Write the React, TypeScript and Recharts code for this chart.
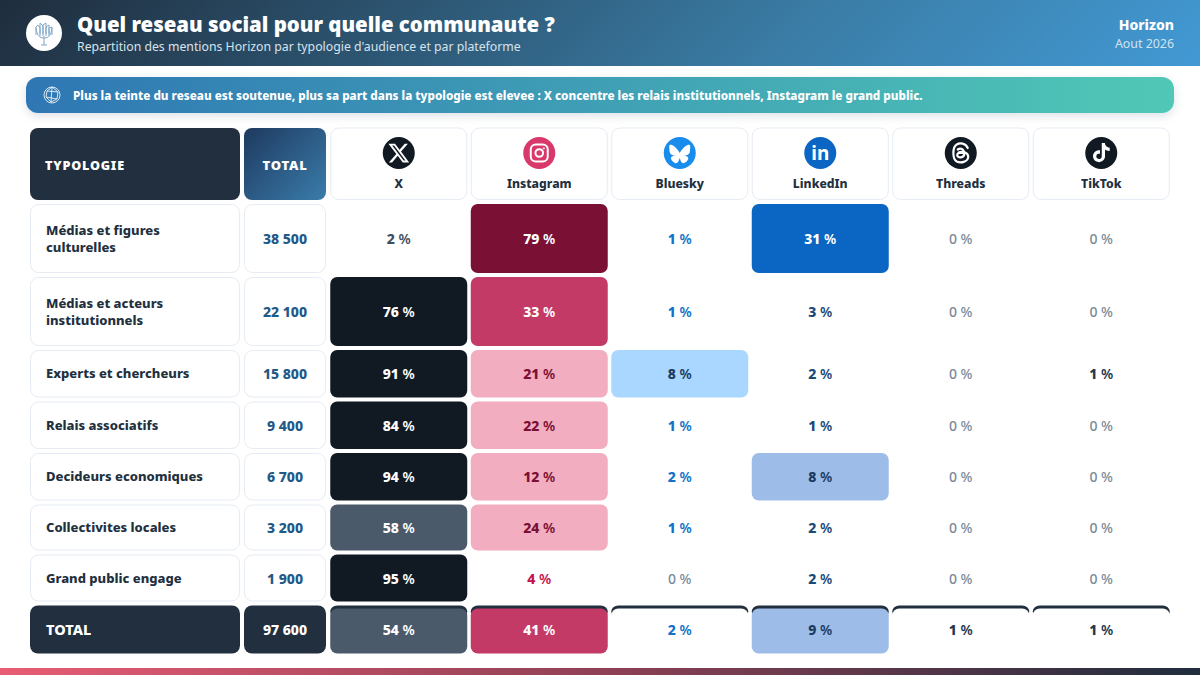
import React from "react";
import { ScatterChart, Scatter, XAxis, YAxis } from "recharts";

const typologies = [
  "Médias et figures\nculturelles",
  "Médias et acteurs\ninstitutionnels",
  "Experts et chercheurs",
  "Relais associatifs",
  "Decideurs economiques",
  "Collectivites locales",
  "Grand public engage",
  "TOTAL",
];
const totals = [38500, 22100, 15800, 9400, 6700, 3200, 1900, 97600];
const platforms = ["X", "Instagram", "Bluesky", "LinkedIn", "Threads", "TikTok"];

const xShare = [2, 76, 91, 84, 94, 58, 95, 54];
const instagramShare = [79, 33, 21, 22, 12, 24, 4, 41];
const blueskyShare = [1, 1, 8, 1, 2, 1, 0, 2];
const linkedinShare = [31, 3, 2, 1, 8, 2, 2, 9];
const threadsShare = [0, 0, 0, 0, 0, 0, 0, 1];
const tiktokShare = [0, 0, 1, 0, 0, 0, 0, 1];
const shares = [xShare, instagramShare, blueskyShare, linkedinShare, threadsShare, tiktokShare];

// layout
const rowBands = [73, 73, 51.5, 51.5, 51.5, 50, 51, 52];
const rowCenters = rowBands.map((h, i) => rowBands.slice(0, i).reduce((a, b) => a + b, 0) + h / 2);
const plotHeight = rowBands.reduce((a, b) => a + b, 0);
const FONT = '"Noto Sans", "Open Sans", sans-serif';
const NAVY = "#222f3e";

const tiers: Record<string, string[]> = {
  X: ["#4b5a6a", "#111a22"],
  Instagram: ["#f2adc0", "#c43a66", "#7a1034"],
  Bluesky: ["#a9d7ff"],
  LinkedIn: ["#9dbde8", "#0a66c2"],
  Threads: [],
  TikTok: [],
};
const plainText: Record<string, string> = {
  X: "#3f4f60",
  Instagram: "#c4134f",
  Bluesky: "#1473c8",
  LinkedIn: "#1c4a78",
  Threads: "#22384f",
  TikTok: "#22384f",
};
const lightText: Record<string, string> = {
  Instagram: "#7a1034",
  Bluesky: "#1c3a5f",
  LinkedIn: "#1c3a5f",
};

const cellStyle = (platform: string, v: number) => {
  if (v < 5) return { fill: "none", text: v === 0 ? "#7b8a99" : plainText[platform] };
  if (platform === "X") return { fill: tiers.X[v < 70 ? 0 : 1], text: "#ffffff" };
  if (v < 30) return { fill: tiers[platform][0], text: lightText[platform] };
  if (platform === "LinkedIn") return { fill: tiers.LinkedIn[1], text: "#ffffff" };
  return { fill: tiers.Instagram[v < 70 ? 1 : 2], text: "#ffffff" };
};

const cells = platforms.flatMap((platform, p) =>
  shares[p].map((v, row) => ({ platform, row, y: rowCenters[row], v }))
);

const HeatCell = (props: any) => {
  const { cx, cy, payload } = props;
  const { platform, row, v } = payload;
  const h = rowBands[row] - 4;
  const w = 137;
  const last = row === typologies.length - 1;
  const st = cellStyle(platform, v);
  return (
    <g>
      {last && <rect x={cx - w / 2} y={cy - h / 2} width={w} height={12} rx={7} fill={NAVY} />}
      {last ? (
        <rect x={cx - w / 2} y={cy - h / 2 + 3} width={w} height={h - 3} rx={7} fill={st.fill === "none" ? "#ffffff" : st.fill} />
      ) : (
        st.fill !== "none" && <rect x={cx - w / 2} y={cy - h / 2} width={w} height={h} rx={7} fill={st.fill} />
      )}
      <text x={cx} y={cy + 5.5} textAnchor="middle" fontFamily={FONT} fontSize={14} fill={st.text}>
        <tspan fontWeight={v === 0 ? 500 : 800}>{v}</tspan>
        <tspan fontWeight={v === 0 ? 500 : 600}> %</tspan>
      </text>
    </g>
  );
};

const PlatformIcon = ({ name, cx, cy }: { name: string; cx: number; cy: number }) => {
  const bg: Record<string, string> = {
    X: "#111a22",
    Instagram: "#d8396a",
    Bluesky: "#1a8cec",
    LinkedIn: "#0a66c2",
    Threads: "#111a22",
    TikTok: "#111a22",
  };
  return (
    <g>
      <circle cx={cx} cy={cy} r={16} fill={bg[name]} />
      {name === "X" && (
        <g transform={`translate(${cx - 11.5} ${cy - 11.5}) scale(0.96)`}>
          <path
            fill="#ffffff"
            d="M18.244 2.25h3.308l-7.227 8.26 8.502 11.24H16.17l-5.214-6.817L4.99 21.75H1.68l7.73-8.835L1.254 2.25H8.08l4.713 6.231zm-1.161 17.52h1.833L7.084 4.126H5.117z"
          />
        </g>
      )}
      {name === "Instagram" && (
        <g fill="none" stroke="#ffffff" strokeWidth={2}>
          <rect x={cx - 8.5} y={cy - 8.5} width={17} height={17} rx={5} />
          <circle cx={cx} cy={cy} r={3.8} />
          <circle cx={cx + 4.6} cy={cy - 4.6} r={0.6} fill="#ffffff" strokeWidth={1} />
        </g>
      )}
      {name === "Bluesky" && (
        <g transform={`translate(${cx - 10.5} ${cy - 9.5}) scale(0.875)`}>
          <path
            fill="#ffffff"
            d="M12 10.8c-1.087-2.114-4.046-6.053-6.798-7.995C2.566.944 1.561 1.266.902 1.565.139 1.908 0 3.08 0 3.768c0 .69.378 5.65.624 6.479.815 2.736 3.713 3.66 6.383 3.364-3.912.58-7.387 2.005-2.83 7.078 5.013 5.19 6.87-1.113 7.823-4.308.953 3.195 2.05 9.271 7.733 4.308 4.267-4.308 1.172-6.498-2.74-7.078 2.67.297 5.568-.628 6.383-3.364.246-.828.624-5.79.624-6.478 0-.69-.139-1.861-.902-2.206-.659-.298-1.664-.62-4.3 1.24C16.046 4.748 13.087 8.687 12 10.8Z"
          />
        </g>
      )}
      {name === "LinkedIn" && (
        <text x={cx} y={cy + 6.5} textAnchor="middle" fontFamily={FONT} fontSize={19} fontWeight={700} fill="#ffffff">
          in
        </text>
      )}
      {name === "Threads" && (
        <g fill="none" stroke="#ffffff" strokeWidth={2.2} strokeLinecap="round">
          <path d={`M${cx + 7} ${cy - 5} C${cx + 5} ${cy - 10} ${cx - 1} ${cy - 10.5} ${cx - 4} ${cy - 8.5} C${cx - 8.5} ${cy - 6} ${cx - 8.5} ${cy + 6} ${cx - 4} ${cy + 8.5} C${cx} ${cy + 10.5} ${cx + 7} ${cy + 9} ${cx + 7.5} ${cy + 4} C${cx + 7.5} ${cy - 1} ${cx + 1} ${cy - 2} ${cx - 2} ${cy - 0.5}`} />
          <path d={`M${cx - 3} ${cy - 3.5} C${cx} ${cy - 5.5} ${cx + 3.5} ${cy - 4} ${cx + 3.5} ${cy + 1} C${cx + 3.5} ${cy + 5} ${cx - 3.5} ${cy + 5.5} ${cx - 3.5} ${cy + 2} C${cx - 3.5} ${cy} ${cx - 1} ${cy - 0.5} ${cx + 3} ${cy}`} />
        </g>
      )}
      {name === "TikTok" && (
        <g transform={`translate(${cx - 9.5} ${cy - 10}) scale(0.8)`}>
          <path
            fill="#ffffff"
            d="M12.525.02c1.31-.02 2.61-.01 3.91-.02.08 1.53.63 3.09 1.75 4.17 1.12 1.11 2.7 1.62 4.24 1.79v4.03c-1.44-.05-2.89-.35-4.2-.97-.57-.26-1.1-.59-1.62-.93-.01 2.92.01 5.84-.02 8.75-.08 1.4-.54 2.79-1.35 3.94-1.31 1.92-3.58 3.17-5.91 3.21-1.43.08-2.86-.31-4.08-1.03-2.02-1.19-3.44-3.37-3.65-5.71-.02-.5-.03-1-.01-1.49.18-1.9 1.12-3.72 2.58-4.96 1.66-1.44 3.98-2.13 6.15-1.72.02 1.48-.04 2.96-.04 4.44-.99-.32-2.15-.23-3.02.37-.63.41-1.11 1.04-1.36 1.75-.21.51-.15 1.07-.14 1.61.24 1.64 1.82 3.02 3.5 2.87 1.12-.01 2.19-.66 2.77-1.61.19-.33.4-.67.41-1.06.1-1.79.06-3.57.07-5.36.01-4.03-.01-8.05.02-12.07z"
          />
        </g>
      )}
    </g>
  );
};

// top axis: one card per platform
const PlatformTick = (props: any) => {
  const { x, payload } = props;
  return (
    <g>
      <rect x={x - 68} y={128} width={136} height={71.5} rx={8} fill="#ffffff" stroke="#e6ecf3" />
      <PlatformIcon name={payload.value} cx={x} cy={153} />
      <text x={x} y={188} textAnchor="middle" fontFamily={FONT} fontSize={12.2} fontWeight={800} fill={NAVY}>
        {payload.value}
      </text>
    </g>
  );
};

// left axis: the typology card and its total
const RowTick = (props: any) => {
  const { y, index } = props;
  const row = rowCenters.findIndex((c) => Math.abs(c - props.payload.value) < 0.01);
  const i = row >= 0 ? row : index;
  const h = rowBands[i] - 4;
  const last = i === typologies.length - 1;
  const lines = typologies[i].split("\n");
  const total = String(totals[i]).replace(/\B(?=(\d{3})+$)/g, " ");
  return (
    <g>
      <rect
        x={last ? 30 : 30.5}
        y={y - h / 2 + (last ? 0 : 0.5)}
        width={last ? 210 : 209}
        height={last ? h : h - 1}
        rx={8}
        fill={last ? NAVY : "#ffffff"}
        stroke={last ? "none" : "#e6ecf3"}
      />
      <rect
        x={last ? 244 : 244.5}
        y={y - h / 2 + (last ? 0 : 0.5)}
        width={last ? 82 : 81}
        height={last ? h : h - 1}
        rx={8}
        fill={last ? NAVY : "#ffffff"}
        stroke={last ? "none" : "#e6ecf3"}
      />
      {lines.map((line, k) => (
        <text
          key={k}
          x={46}
          y={y + (last ? 5.5 : 4.5) + (k - (lines.length - 1) / 2) * 17}
          fontFamily={FONT}
          fontSize={last ? 14.5 : 13}
          fontWeight={800}
          fill={last ? "#ffffff" : NAVY}
        >
          {line}
        </text>
      ))}
      <text
        x={285}
        y={y + 5.5}
        textAnchor="middle"
        fontFamily={FONT}
        fontSize={14}
        fontWeight={800}
        fill={last ? "#ffffff" : "#1f5a88"}
      >
        {total}
      </text>
    </g>
  );
};

export default function App() {
  return (
    <div
      style={{
        position: "absolute",
        left: 0,
        top: 0,
        width: 1200,
        height: 675,
        background: "#ffffff",
        overflow: "hidden",
        fontFamily: FONT,
      }}
    >
      {/* banner */}
      <div
        style={{
          position: "absolute",
          left: 0,
          top: 0,
          width: 1200,
          height: 66,
          background: "linear-gradient(135deg, #1f2d3d 0%, #3a7ca5 65%, #4299d4 100%)",
        }}
      />
      <svg style={{ position: "absolute", left: 26, top: 14 }} width={38} height={38}>
        <circle cx={18} cy={19} r={18} fill="#ffffff" />
        <g fill="none" stroke="#7fa6c6" strokeWidth={1}>
          <path d="M18 31 V22 M15 31 H21 M18 24 C13 24 11 21 10 14 M18 24 C23 24 25 21 26 14" />
          <path d="M10 21 V13 L12 11 L14 14 V22 M14 20 V9 L17 12 V22 M17 20 V11 L20 9 V22 M20 20 V13 L23 11 V22 M23 20 V14 L26 13 V21" />
        </g>
      </svg>
      <div
        style={{
          position: "absolute",
          left: 77,
          top: 9,
          fontSize: 20.4,
          fontWeight: 900,
          color: "#ffffff",
          lineHeight: "30px",
          whiteSpace: "nowrap",
        }}
      >
        Quel reseau social pour quelle communaute ?
      </div>
      <div
        style={{
          position: "absolute",
          left: 77,
          top: 38,
          fontSize: 12.27,
          color: "#d7e3ec",
          lineHeight: "18px",
          whiteSpace: "nowrap",
        }}
      >
        Repartition des mentions Horizon par typologie d'audience et par plateforme
      </div>
      <div
        style={{
          position: "absolute",
          right: 26,
          top: 16,
          fontSize: 14,
          fontWeight: 800,
          color: "#ffffff",
          lineHeight: "18px",
        }}
      >
        Horizon
      </div>
      <div
        style={{
          position: "absolute",
          right: 26,
          top: 35,
          fontSize: 12.4,
          color: "#cfe2f0",
          lineHeight: "18px",
        }}
      >
        Aout 2026
      </div>

      {/* info strip */}
      <div
        style={{
          position: "absolute",
          left: 26,
          top: 77,
          width: 1148,
          height: 36,
          borderRadius: 12,
          background: "linear-gradient(90deg, #2f77b4 0%, #50c8b6 100%)",
          boxShadow: "0 3px 10px rgba(60,90,120,0.18)",
        }}
      />
      <svg style={{ position: "absolute", left: 43, top: 86 }} width={18} height={18}>
        <g fill="none" stroke="#ffffff" strokeWidth={0.9} opacity={0.9}>
          <circle cx={9} cy={9} r={8} />
          <path d="M9 1 L4 5 L3 11 L8 16 L14 13 L15 6 Z M4 5 L15 6 M3 11 L14 13 M9 1 L8 16" />
        </g>
      </svg>
      <div
        style={{
          position: "absolute",
          left: 73,
          top: 85.5,
          fontSize: 11.7,
          fontWeight: 800,
          color: "#ffffff",
          lineHeight: "18px",
          whiteSpace: "nowrap",
        }}
      >
        Plus la teinte du reseau est soutenue, plus sa part dans la typologie est elevee : X concentre les relais
        institutionnels, Instagram le grand public.
      </div>

      {/* header cards of the two left columns */}
      <div
        style={{
          position: "absolute",
          left: 30,
          top: 128,
          width: 210,
          height: 72,
          borderRadius: 8,
          background: NAVY,
          color: "#ffffff",
          fontSize: 12.6,
          fontWeight: 900,
          letterSpacing: 0.8,
          lineHeight: "75px",
          textIndent: 15,
        }}
      >
        TYPOLOGIE
      </div>
      <div
        style={{
          position: "absolute",
          left: 244,
          top: 128,
          width: 82,
          height: 72,
          borderRadius: 8,
          background: "linear-gradient(135deg, #1e3a5f 0%, #3a7cab 100%)",
          color: "#ffffff",
          fontSize: 13,
          fontWeight: 900,
          letterSpacing: 0.8,
          lineHeight: "75px",
          textAlign: "center",
        }}
      >
        TOTAL
      </div>

      <div style={{ position: "absolute", left: 0, top: 0 }}>
        <ScatterChart
          width={1200}
          height={675}
          margin={{ top: 126, right: 28.5, bottom: 675 - 202 - plotHeight, left: 29.5 }}
        >
          <XAxis
            xAxisId={0}
            type="category"
            dataKey="platform"
            orientation="top"
            allowDuplicatedCategory={false}
            height={76}
            axisLine={false}
            tickLine={false}
            interval={0}
            tick={<PlatformTick />}
          />
          <YAxis
            yAxisId={0}
            type="number"
            dataKey="y"
            domain={[0, plotHeight]}
            reversed
            width={299}
            ticks={rowCenters}
            interval={0}
            axisLine={false}
            tickLine={false}
            tick={<RowTick />}
          />
          <Scatter data={cells} shape={<HeatCell />} isAnimationActive={false} />
        </ScatterChart>
      </div>

      {/* bottom strip */}
      <div
        style={{
          position: "absolute",
          left: 0,
          top: 668,
          width: 1200,
          height: 7,
          background: "linear-gradient(90deg, #e85d75 0%, #8f4055 50%, #1f2d3d 100%)",
        }}
      />
    </div>
  );
}
